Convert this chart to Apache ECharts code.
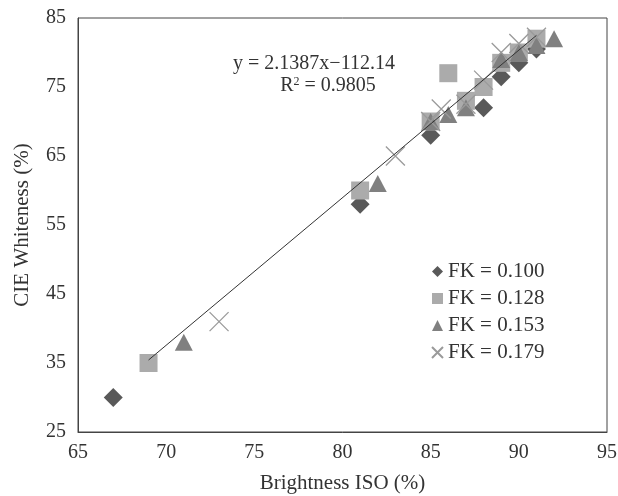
<!DOCTYPE html>
<html>
<head>
<meta charset="utf-8">
<script src="https://cdn.jsdelivr.net/npm/echarts@6/dist/echarts.min.js"></script>
<style>
  html, body { margin: 0; padding: 0; background: #fff; }
  #chart { width: 618px; height: 496px; }
</style>
</head>
<body>
<div id="chart"></div>
<script>
// Brightness ISO (%) vs CIE Whiteness (%) for four FK levels
const fk100 = [[67, 30], [81, 58], [85, 68], [88, 72], [89, 76.5], [90, 78.5], [91, 80.5]];
const fk128 = [[69, 35], [81, 60], [85, 70], [86, 77], [87, 73], [88, 75], [89, 78.5], [90, 80], [91, 82]];
const fk153 = [[71, 38], [82, 61], [85, 70], [86, 71], [87, 72], [89, 79], [90, 80], [91, 81], [92, 82]];
const fk179 = [[73, 41], [83, 65], [85, 70], [85.6, 71.8], [87, 72.5], [88, 76], [89, 80], [90, 81.3], [91, 82.2]];

const seriesNames = ['FK = 0.100', 'FK = 0.128', 'FK = 0.153', 'FK = 0.179'];

// Linear trend: y = 2.1387x − 112.14, R² = 0.9805
const slope = 2.1387;
const intercept = -112.14;
const rSquared = 0.9805;
const trendRange = [69, 91];
const trendLine = trendRange.map(x => [x, slope * x + intercept]);

const xTicks = { min: 65, max: 95, interval: 5 };
const yTicks = { min: 25, max: 85, interval: 10 };

const serif = '"Liberation Serif", "DejaVu Serif", serif';
const textColor = '#333';

const chart = echarts.init(document.getElementById('chart'));
chart.setOption({
  animation: false,
  backgroundColor: '#fff',
  grid: {
    left: 78, right: 11, top: 18, bottom: 64,
    containLabel: false, outerBoundsMode: 'none',
    show: true, borderColor: '#444', borderWidth: 1
  },
  xAxis: {
    type: 'value',
    min: xTicks.min, max: xTicks.max, interval: xTicks.interval,
    name: 'Brightness ISO (%)',
    nameLocation: 'middle', nameGap: 41,
    nameTextStyle: { fontFamily: serif, fontSize: 21, color: textColor },
    axisLine: { show: true, onZero: false, lineStyle: { color: '#444', width: 1 } },
    axisTick: { show: false },
    splitLine: { show: false },
    axisLabel: { fontFamily: serif, fontSize: 20, color: textColor, margin: 11 }
  },
  yAxis: {
    type: 'value',
    min: yTicks.min, max: yTicks.max, interval: yTicks.interval,
    name: 'CIE Whiteness (%)',
    nameLocation: 'middle', nameGap: 45,
    nameTextStyle: { fontFamily: serif, fontSize: 21, color: textColor },
    axisLine: { show: true, onZero: false, lineStyle: { color: '#444', width: 1 } },
    axisTick: { show: false },
    splitLine: { show: false },
    axisLabel: { fontFamily: serif, fontSize: 20, color: textColor, margin: 12 }
  },
  legend: {
    orient: 'vertical',
    left: 426, top: 256,
    itemWidth: 11, itemHeight: 11, itemGap: 6,
    textStyle: { fontFamily: serif, fontSize: 21, color: textColor },
    data: seriesNames
  },
  graphic: [
    {
      type: 'text', x: 314, y: 64,
      style: {
        text: 'y = 2.1387x\u2212112.14',
        fontFamily: serif, fontSize: 20, fill: textColor,
        align: 'center', verticalAlign: 'middle'
      }
    },
    {
      type: 'text', x: 328, y: 86,
      style: {
        text: '{b|R}{s|2}{b| = ' + rSquared.toFixed(4) + '}',
        align: 'center', verticalAlign: 'middle',
        rich: {
          b: { fontFamily: serif, fontSize: 20, fill: textColor, verticalAlign: 'bottom' },
          s: { fontFamily: serif, fontSize: 12, fill: textColor, verticalAlign: 'top', padding: [0, 0, 8, 0] }
        }
      }
    }
  ],
  series: [
    {
      name: seriesNames[0], type: 'scatter', data: fk100,
      symbol: 'diamond', symbolSize: [19, 19],
      itemStyle: { color: '#595959', opacity: 1 }, z: 2
    },
    {
      name: seriesNames[1], type: 'scatter', data: fk128,
      symbol: 'rect', symbolSize: 18,
      itemStyle: { color: '#ababab', opacity: 1 }, z: 3
    },
    {
      name: seriesNames[2], type: 'scatter', data: fk153,
      symbol: 'triangle', symbolSize: [18, 17],
      itemStyle: { color: '#808080', opacity: 1 }, z: 4
    },
    {
      name: seriesNames[3], type: 'scatter', data: fk179,
      symbol: 'path://M0,0L10,10M10,0L0,10', symbolSize: 19,
      itemStyle: { color: 'rgba(0,0,0,0)', borderColor: '#9a9a9a', borderWidth: 1.3, opacity: 1 }, z: 5
    },
    {
      name: 'trend', type: 'line', data: trendLine,
      symbol: 'none', silent: true,
      lineStyle: { color: '#333', width: 1 }, z: 6
    }
  ]
});
</script>
</body>
</html>
